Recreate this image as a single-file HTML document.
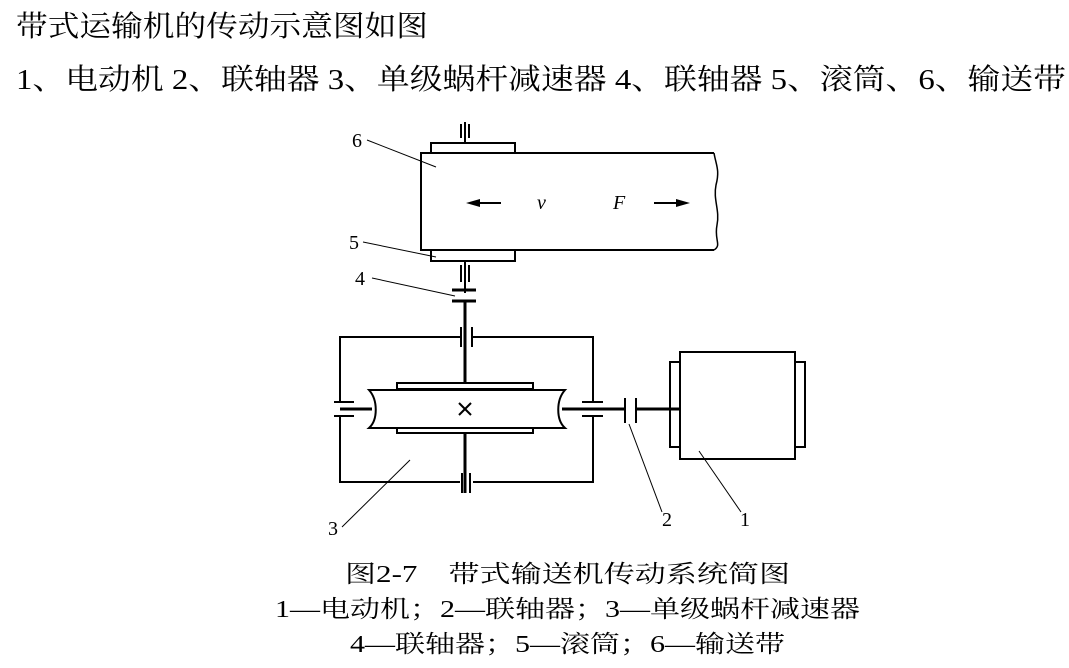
<!DOCTYPE html>
<html><head><meta charset="utf-8"><style>
html,body{margin:0;padding:0;background:#fff;}
svg{display:block;}
.s{font-family:"Liberation Serif","Noto Serif CJK SC",serif;}
</style></head><body>
<svg width="1069" height="668" viewBox="0 0 1069 668" xmlns="http://www.w3.org/2000/svg">
<text class="s" x="16" y="36" font-size="29" textLength="412" lengthAdjust="spacingAndGlyphs">带式运输机的传动示意图如图</text>
<text class="s" x="16" y="89" font-size="29" textLength="1050" lengthAdjust="spacingAndGlyphs">1、电动机 2、联轴器 3、单级蜗杆减速器 4、联轴器 5、滚筒、6、输送带</text>

<g fill="none" stroke="#000" stroke-width="2">
<path d="M714,153 L421,153 L421,250 L714,250"/>
<path d="M714,153 C716,165 720,170 716,185 C713,200 720,210 717,225 C714,240 722,245 714,250" stroke-width="1.5"/>
<rect x="431" y="143" width="84" height="10"/>
<rect x="431" y="250" width="84" height="11"/>
<line x1="465" y1="122" x2="465" y2="143"/>
<line x1="461" y1="124" x2="461" y2="138"/><line x1="469" y1="124" x2="469" y2="138"/>
<line x1="465" y1="261" x2="465" y2="293"/>
<line x1="461" y1="265" x2="461" y2="282"/><line x1="469" y1="265" x2="469" y2="282"/>
<line x1="452" y1="290" x2="476" y2="290" stroke-width="3"/>
<line x1="452" y1="301" x2="476" y2="301" stroke-width="3"/>
<line x1="465" y1="301" x2="465" y2="383" stroke-width="3"/>
<path d="M460,337 L340,337 L340,402 M340,416 L340,482 L460,482"/>
<path d="M473,337 L593,337 L593,402 M593,416 L593,482 L473,482"/>
<line x1="461" y1="327" x2="461" y2="347"/><line x1="472" y1="327" x2="472" y2="347"/>
<line x1="462" y1="473" x2="462" y2="493"/><line x1="470" y1="473" x2="470" y2="493"/>
<line x1="465" y1="433" x2="465" y2="493" stroke-width="3"/>
<line x1="334" y1="402" x2="354" y2="402"/><line x1="334" y1="416" x2="354" y2="416"/>
<line x1="582" y1="402" x2="603" y2="402"/><line x1="582" y1="416" x2="603" y2="416"/>
<rect x="397" y="383" width="136" height="6"/>
<rect x="397" y="427" width="136" height="6"/>
<path d="M369,390 L565,390 C556,400 556,420 565,428 L369,428 C378,420 378,400 369,390 Z" fill="#fff"/>
<line x1="340" y1="409" x2="372" y2="409" stroke-width="3"/>
<line x1="562" y1="409" x2="625" y2="409" stroke-width="3"/>
<line x1="636" y1="409" x2="680" y2="409" stroke-width="3"/>
<line x1="459" y1="403" x2="471" y2="415"/><line x1="471" y1="403" x2="459" y2="415"/>
<line x1="625" y1="398" x2="625" y2="423"/><line x1="636" y1="398" x2="636" y2="423"/>
<rect x="680" y="352" width="115" height="107"/>
<rect x="670" y="362" width="10" height="85"/>
<rect x="795" y="362" width="10" height="85"/>
</g>
<g stroke="#000" stroke-width="2">
<line x1="478" y1="203" x2="501" y2="203"/><line x1="654" y1="203" x2="678" y2="203"/>
</g>
<path d="M466,203 L480,199 L480,207Z M690,203 L676,199 L676,207Z" fill="#000"/>
<text class="s" x="537" y="209" font-size="20" font-style="italic">v</text>
<text class="s" x="613" y="209" font-size="20" font-style="italic">F</text>
<g stroke="#000" stroke-width="1">
<line x1="367" y1="140" x2="436" y2="167"/>
<line x1="363" y1="242" x2="436" y2="257"/>
<line x1="372" y1="278" x2="455" y2="296"/>
<line x1="342" y1="527" x2="410" y2="460"/>
<line x1="662" y1="512" x2="629" y2="424"/>
<line x1="741" y1="512" x2="699" y2="451"/>
</g>
<g class="s" font-size="20">
<text x="352" y="147">6</text><text x="349" y="249">5</text><text x="355" y="285">4</text>
<text x="328" y="535">3</text><text x="662" y="526">2</text><text x="740" y="526">1</text>
</g>
<text class="s" x="345" y="582" font-size="24" textLength="445" lengthAdjust="spacingAndGlyphs">图2-7　带式输送机传动系统简图</text>
<text class="s" x="275" y="617" font-size="24" textLength="585" lengthAdjust="spacingAndGlyphs">1—电动机；2—联轴器；3—单级蜗杆减速器</text>
<text class="s" x="350" y="652" font-size="24" textLength="435" lengthAdjust="spacingAndGlyphs">4—联轴器；5—滚筒；6—输送带</text>
</svg>
</body></html>
